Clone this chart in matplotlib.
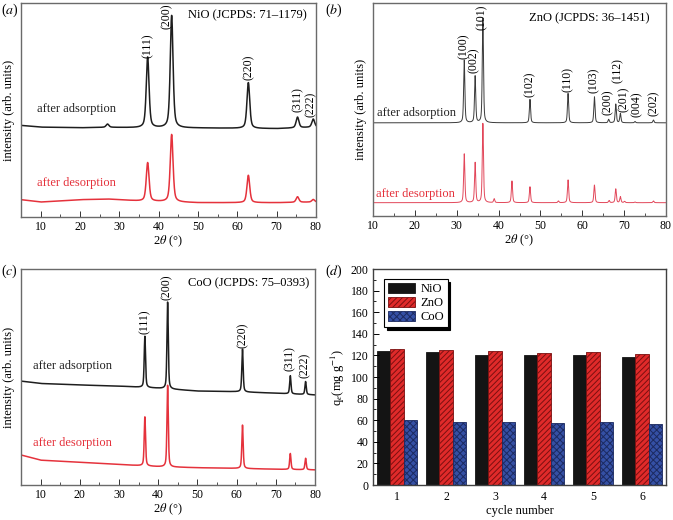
import numpy as np
import matplotlib
matplotlib.use('Agg')
import matplotlib.pyplot as plt
from matplotlib.ticker import MultipleLocator

plt.rcParams['font.family'] = ['Liberation Serif', 'DejaVu Serif']
plt.rcParams['mathtext.fontset'] = 'stix'
plt.rcParams['hatch.linewidth'] = 0.7

# ---------------- data ----------------
# (a) NiO
nio_peaks = [27.0, 37.2, 43.3, 62.8, 75.3, 79.3]
nio_ads_h = [1.5, 33.0, 52.5, 21.4, 5.0, 3.8]
nio_des_h = [0.0, 18.0, 31.5, 12.8, 2.6, 1.2]
nio_bx = [5, 10, 20, 27, 35, 50, 70, 80]
nio_ads_by = [42.8, 42.0, 41.7, 41.9, 41.7, 41.6, 41.3, 42.0]
nio_des_by = [8.1, 7.0, 8.1, 8.4, 7.5, 6.7, 6.7, 7.0]
nio_lab = ['(111)', '(200)', '(220)', '(311)', '(222)']
nio_lab_x = [37.2, 42.0, 62.8, 75.3, 78.7]
nio_lab_y = [79.9, 93.9, 70.1, 55.0, 52.6]

# (b) ZnO
zno_ads_peaks = [31.8, 34.4, 36.25, 47.5, 56.6, 62.9, 66.3, 68.0, 69.1, 72.6, 77.0]
zno_ads_h = [29.4, 21.9, 49.0, 11.0, 13.8, 12.2, 1.6, 8.8, 4.4, 0.6, 1.3]
zno_des_peaks = [31.8, 34.4, 36.25, 38.95, 43.2, 47.5, 54.3, 56.6, 62.9, 66.4, 68.0, 69.1, 70.1, 72.6, 77.0]
zno_des_h = [22.9, 18.8, 37.2, 1.8, 10.2, 7.5, 0.8, 10.7, 8.3, 1.0, 6.5, 2.8, 0.6, 0.3, 0.8]
zno_bx = [10, 80]
zno_ads_by = [43.75, 43.75]
zno_des_by = [6.25, 6.25]
zno_lab = ['(100)', '(002)', '(101)', '(102)', '(110)', '(103)', '(200)', '(112)', '(201)', '(004)', '(202)']
zno_lab_x = [31.6, 34.2, 36.0, 47.4, 56.5, 62.8, 66.1, 68.5, 69.9, 73.0, 77.0]
zno_lab_y = [79.8, 73.1, 93.4, 61.9, 64.2, 63.8, 53.5, 68.5, 55.0, 52.6, 53.0]

# (c) CoO
coo_peaks = [36.6, 42.4, 61.5, 73.7, 77.6]
coo_ads_h = [23.7, 40.2, 19.8, 8.4, 6.0]
coo_des_h = [22.7, 37.8, 20.1, 7.4, 5.3]
coo_bx = [5, 10, 20, 30, 40, 50, 60, 70, 80]
coo_ads_by = [48.1, 47.0, 46.3, 45.8, 44.8, 43.5, 43.2, 42.5, 41.7]
coo_des_by = [13.9, 11.5, 10.5, 9.5, 8.5, 8.0, 7.7, 7.3, 7.0]
coo_lab = ['(111)', '(200)', '(220)', '(311)', '(222)']
coo_lab_x = [36.6, 42.3, 61.7, 73.5, 77.5]
coo_lab_y = [75.6, 91.5, 69.1, 58.6, 55.6]

# (d) adsorption capacity over cycles
cycles = [1, 2, 3, 4, 5, 6]
nio_qe = [124.4, 122.8, 120.4, 120.4, 120.0, 118.8]
zno_qe = [125.6, 125.0, 124.0, 121.9, 123.1, 121.6]
coo_qe = [59.9, 58.0, 58.6, 57.7, 58.0, 56.8]

# ---------------- helpers ----------------
W, H = 673, 520
fig = plt.figure(figsize=(W / 100, H / 100), dpi=100)


def px_axes(left, top, right, bottom):
    return fig.add_axes([left / W, 1 - bottom / H, (right - left) / W, (bottom - top) / H])


def pattern(x, bx, by, pos, h, hw):
    y = np.interp(x, bx, by)
    for c, a in zip(pos, h):
        u = (x - c) / hw
        y = y + a * (0.5 / (1 + u * u) + 0.5 * np.exp(-np.log(2) * u * u))
    return y


BLACK = '#1e1e1e'
RED = '#e5323c'
SPINE = '#6a6a6a'


def style_xrd(ax, xmin):
    ax.set_xlim(xmin, 80)
    ax.set_ylim(0, 100)
    ax.set_yticks([])
    ax.xaxis.set_major_locator(MultipleLocator(10))
    ax.xaxis.set_minor_locator(MultipleLocator(5))
    ax.tick_params(axis='x', which='major', direction='in', length=4, width=0.7,
                   labelsize=8.5, pad=3, color='#333333')
    ax.tick_params(axis='x', which='minor', direction='in', length=2.5, width=0.6, color='#333333')
    for s in ax.spines.values():
        s.set_color(SPINE)
        s.set_linewidth(1.0)
    ax.set_xlabel(r'2$\theta$ (°)', fontsize=9, labelpad=0.5)
    ax.set_ylabel('intensity (arb. units)', fontsize=9, labelpad=4)


def xrd_panel(ax, xmin, bx, by_a, by_d, pa, ha, pd, hd, hw, lw, cblack, cred,
              labs, lx, ly, title, tx, ty, ads_xy, des_xy):
    x = np.linspace(xmin, 80, 6000)
    ax.plot(x, pattern(x, bx, by_a, pa, ha, hw), color=cblack, lw=lw)
    ax.plot(x, pattern(x, bx, by_d, pd, hd, hw), color=cred, lw=lw)
    for t, a, b in zip(labs, lx, ly):
        ax.text(a, b, t, rotation=90, ha='center', va='center', fontsize=8.5, clip_on=False)
    ax.text(tx, ty, title, transform=ax.transAxes, ha='right', va='center', fontsize=9)
    ax.text(ads_xy[0], ads_xy[1], 'after adsorption', transform=ax.transAxes,
            ha='left', va='center', fontsize=9, color='#222222')
    ax.text(des_xy[0], des_xy[1], 'after desorption', transform=ax.transAxes,
            ha='left', va='center', fontsize=9, color=RED)
    style_xrd(ax, xmin)


# (a)
axa = px_axes(21, 3, 316, 217)
xrd_panel(axa, 5, nio_bx, nio_ads_by, nio_des_by, nio_peaks, nio_ads_h, nio_peaks, nio_des_h,
          0.42, 1.1, BLACK, RED, nio_lab, nio_lab_x, nio_lab_y,
          'NiO (JCPDS: 71–1179)', 0.968, 0.942, (0.055, 0.506), (0.055, 0.159))

# (b)
axb = px_axes(373, 3, 666, 216)
xrd_panel(axb, 10, zno_bx, zno_ads_by, zno_des_by, zno_ads_peaks, zno_ads_h, zno_des_peaks, zno_des_h,
          0.17, 0.7, '#3a3a3a', '#e2475a', zno_lab, zno_lab_x, zno_lab_y,
          'ZnO (JCPDS: 36–1451)', 0.943, 0.927, (0.014, 0.484), (0.010, 0.103))

# (c)
axc = px_axes(21, 269, 315, 485)
xrd_panel(axc, 5, coo_bx, coo_ads_by, coo_des_by, coo_peaks, coo_ads_h, coo_peaks, coo_des_h,
          0.2, 1.1, BLACK, RED, coo_lab, coo_lab_x, coo_lab_y,
          'CoO (JCPDS: 75–0393)', 0.982, 0.934, (0.040, 0.551), (0.040, 0.193))

# (d)
axd = px_axes(373, 269, 666, 485)
xc = np.array(cycles, dtype=float)
bw = 0.27
axd.bar(xc - bw, nio_qe, bw, color='#141414', edgecolor='#141414', linewidth=0.6, label='NiO')
axd.bar(xc, zno_qe, bw, color='#e02a2a', edgecolor='#7a1010', linewidth=0.6, hatch='//////', label='ZnO')
axd.bar(xc + bw, coo_qe, bw, color='#3550a5', edgecolor='#1c2a60', linewidth=0.6, hatch='xxxxx', label='CoO')
axd.set_xlim(0.51, 6.49)
axd.set_ylim(0, 200)
axd.set_xticks(cycles)
axd.yaxis.set_major_locator(MultipleLocator(20))
axd.yaxis.set_minor_locator(MultipleLocator(10))
axd.tick_params(axis='both', which='major', direction='in', length=4, width=0.7, labelsize=8.5, pad=3)
axd.tick_params(axis='x', which='major', length=0, pad=4)
axd.tick_params(axis='y', which='minor', direction='in', length=2.5, width=0.6)
axd.tick_params(axis='x', which='minor', bottom=False)
for s in axd.spines.values():
    s.set_color('#404040')
    s.set_linewidth(1.0)
axd.set_xlabel('cycle number', fontsize=9, labelpad=2)
axd.set_ylabel(r'q$_e$(mg g$^{-1}$)', fontsize=9, labelpad=3)
leg = axd.legend(loc='upper left', bbox_to_anchor=(0.0375, 0.954), borderaxespad=0,
                 fontsize=9, frameon=True, fancybox=False, shadow={'color': 'black', 'alpha': 1.0},
                 handlelength=2.2, handleheight=0.85, labelspacing=0.15, handletextpad=0.4,
                 borderpad=0.3)
leg.get_frame().set_edgecolor('black')
leg.get_frame().set_linewidth(0.8)

# panel letters
for lab, x, y in [('a', 1, 10), ('b', 325, 10), ('c', 1, 271), ('d', 325, 271)]:
    fig.text(x / W, 1 - y / H, '(' + r'$\it{' + lab + '}$' + ')', fontsize=10, va='center', ha='left')

fig.savefig('out.png', dpi=100)
